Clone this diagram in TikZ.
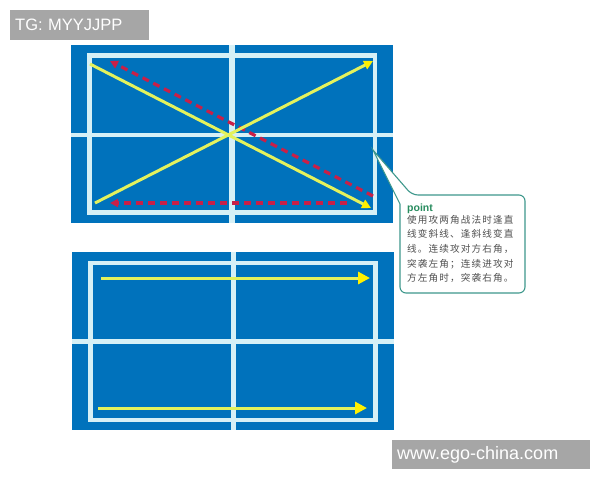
\documentclass[tikz,border=0pt]{standalone}
\usepackage{fontspec}
\usetikzlibrary{arrows.meta}
\newfontfamily\cjk[LetterSpace=12]{Noto Sans CJK SC}
\newfontfamily\marksans{Liberation Sans}
\definecolor{courtblue}{RGB}{0,114,188}
\definecolor{courtline}{RGB}{214,240,246}
\definecolor{shotyellow}{RGB}{228,242,92}
\definecolor{tipyellow}{RGB}{255,240,0}
\definecolor{feintred}{RGB}{200,32,72}
\definecolor{calloutteal}{RGB}{62,152,140}
\definecolor{pointgreen}{RGB}{40,140,95}
\definecolor{notegray}{RGB}{80,80,80}
\definecolor{markgray}{RGB}{166,166,166}
\tikzset{
  court/.style={fill=courtblue},
  courtmark/.style={fill=courtline},
  boundary/.style={draw=courtline,line width=4.6},
  shot/.style={draw=shotyellow,line width=3,-{Triangle[length=9,width=9,color=tipyellow]}},
  longshot/.style={draw=shotyellow,line width=3,-{Triangle[length=12,width=12,color=tipyellow]}},
  feint/.style={draw=feintred,line width=3.2,dash pattern={on 7 off 5},-{Triangle[length=8,width=8]}},
  watermark/.style={fill=markgray,text=white,font=\marksans,inner sep=0,anchor=west},
}
\begin{document}
\begin{tikzpicture}[x=1pt,y=1pt,yscale=-1]
\useasboundingbox[fill=white] (0,0) rectangle (600,480);

%Shape: Rectangle (top court)
\fill[court] (71,45) rectangle (393,223);
%Shape: net line
\fill[courtmark] (71,133) rectangle (393,137);
\fill[courtmark] (229,45) rectangle (235,223);
%Shape: boundary
\draw[boundary] (89.5,55.5) rectangle (375,212.5);

%Shape: Rectangle (bottom court)
\fill[court] (72,252) rectangle (394,430);
%Shape: net line
\fill[courtmark] (72,339) rectangle (394,344);
\fill[courtmark] (231,252) rectangle (236,430);
%Shape: boundary
\draw[boundary] (90.5,263) rectangle (375.5,420);

% shot ends
\coordinate (crossA) at (90,64);
\coordinate (crossAend) at (371,208);
\coordinate (crossB) at (95,203);
\coordinate (crossBend) at (373,61);
\coordinate (feintC) at (373,196);
\coordinate (feintCend) at (110,61);
\coordinate (feintD) at (347,203);
\coordinate (feintDend) at (110,203);
\coordinate (lineE) at (101,278);
\coordinate (lineEend) at (370,278);
\coordinate (lineF) at (98,408);
\coordinate (lineFend) at (367,408);

%Straight Lines
\draw[feint] (feintC) -- (feintCend);
\draw[feint] (feintD) -- (feintDend);
\draw[shot] (crossA) -- (crossAend);
\draw[shot] (crossB) -- (crossBend);
\draw[longshot] (lineE) -- (lineEend);
\draw[longshot] (lineF) -- (lineFend);

%Shape: Callout
\coordinate (calloutTip) at (373,150);
\draw[calloutteal,fill=white,line width=1.1] (calloutTip) -- (400,204)
  [rounded corners=6] -- (400,293) -- (525,293) -- (525,195) -- (412,195)
  [sharp corners] -- cycle;

% Text Node
\node (pointlbl) [anchor=base west,inner sep=0,text=pointgreen,font=\marksans\bfseries\fontsize{10.5}{12}\selectfont] at (407,211) {point};
% Text Node
\node (notetext) [anchor=north west,inner sep=0,align=left,text=notegray,font=\cjk\fontsize{9.6}{14.6}\selectfont] at (407,215) {使用攻两角战法时逢直\\线变斜线、逢斜线变直\\线。连续攻对方右角，\\突袭左角；连续进攻对\\方左角时，突袭右角。};

% Text Node (watermarks)
\node (tgmark) [watermark,minimum height=30,text width=139,font=\marksans\fontsize{16.5}{18}\selectfont] at (10,25) {\hspace{5pt}TG: MYYJJPP};
\node (sitemark) [watermark,minimum height=29,text width=198,font=\marksans\fontsize{18}{20}\selectfont] at (392,454.5) {\hspace{5pt}www.ego-china.com};

\end{tikzpicture}
\end{document}
